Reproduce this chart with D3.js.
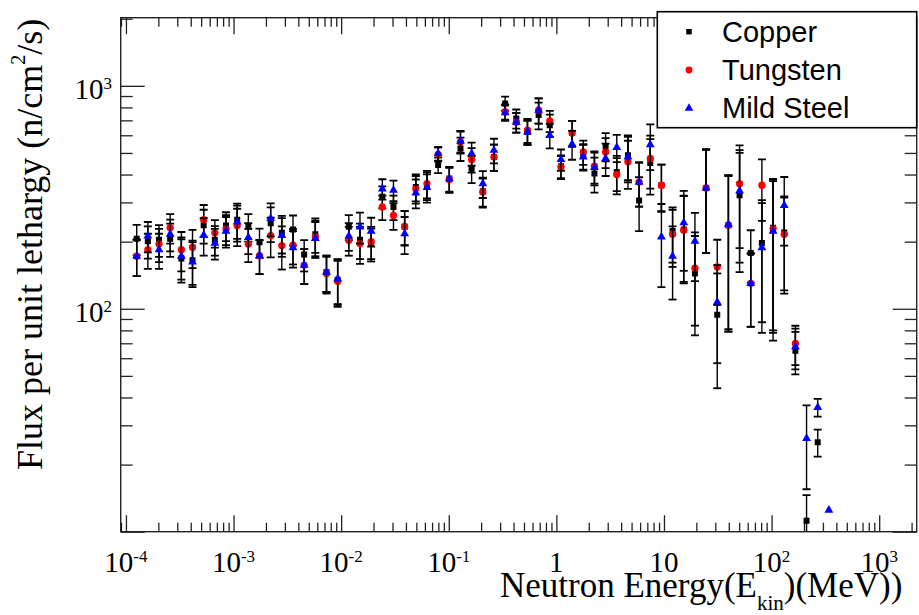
<!DOCTYPE html>
<html>
<head>
<meta charset="utf-8">
<script src="https://cdn.jsdelivr.net/npm/d3@7"></script>
<style>
  body { margin: 0; background: #fff; }
  text { font-family: "Liberation Serif", "Times New Roman", serif; fill: #000; }
  .legend text { font-family: "Liberation Sans", Arial, sans-serif; }
</style>
</head>
<body>
<svg id="chart" width="919" height="615"></svg>
<script>
// neutron energy bin centres (MeV)
const energy = [1.259e-4, 1.598e-4, 2.030e-4, 2.577e-4, 3.273e-4, 4.156e-4, 5.278e-4, 6.702e-4, 8.511e-4,
  1.081e-3, 1.372e-3, 1.743e-3, 2.213e-3, 2.810e-3, 3.569e-3, 4.532e-3, 5.754e-3, 7.307e-3, 9.279e-3,
  1.178e-2, 1.496e-2, 1.900e-2, 2.413e-2, 3.063e-2, 3.890e-2, 4.940e-2, 6.273e-2, 7.966e-2,
  0.1012, 0.1285, 0.1631, 0.2072, 0.2630, 0.3340, 0.4242, 0.5387, 0.6839, 0.8685,
  1.103, 1.400, 1.778, 2.258, 2.868, 3.641, 4.624, 5.872, 7.457, 9.467,
  12.02, 15.27, 19.39, 24.61, 31.26, 39.69, 50.41, 64.01, 81.28,
  103.2, 131.1, 166.4, 211.3, 268.4, 340.8];

const copper = [206, 201, 204, 206, 168, 165, 237, 204, 236, 251,
  233, 199, 242, 219, 227, 175, 216, 146, 135, 233,
  204, 196, 318, 286, 233, 352, 358, 441, 384, 523,
  425, 337, 480, 834, 713, 621, 739, 666, 436, 615,
  484, 404, 536, 411, 488, 306, 451, 358, 223, 227,
  144, 348, 94, 237, 323, 178, 197, 231, 220, 64.8,
  11.2, 25.2, null];

const tungsten = [172, 184, 195, 231, 184, 189, 251, 219, 228, 236,
  195, 173, 213, 192, 193, 157, 210, 144, 133, 203,
  196, 200, 286, 262, 234, 345, 364, 493, 380, 560,
  467, 334, 480, 765, 687, 632, 778, 696, 433, 615,
  505, 436, 505, 400, 456, 370, 472, 358, 216, 225,
  152, 348, 154, 237, 364, 130, 358, 229, 216, 69.9,
  null, null, null];

const mildSteel = [172, 212, 184, 216, 172, 162, 214, 197, 223, 245,
  209, 173, 254, 213, 188, 157, 207, 146, 136, 212,
  233, 223, 345, 340, 217, 331, 350, 497, 382, 564,
  497, 364, 514, 757, 687, 621, 778, 600, 467, 547,
  480, 430, 472, 529, 480, 370, 545, 210, 172, 243,
  201, 348, 107, 239, 338, 130, 188, 223, 291, 67.5,
  26.2, 36.1, 12.5];

// error bars (same size for the three targets up to 150 MeV)
const errCommon = [32, 33, 33, 35, 37, 37, 41, 31, 35, 45,
  33, 30, 43, 42, 35, 28, 38, 27, 31, 30,
  37, 33, 36, 36, 41, 49, 51, 35, 49, 63,
  59, 50, 65, 60, 70, 78, 101, 76, 51, 81,
  63, 72, 78, 74, 111, 83, 126, 85, 62, 95,
  68, 170, 50, 158, 177, 47, 110, 151, 99, 14];
const errCopper = errCommon.concat([3.4, 3.5, 0]);
const errTungsten = errCommon.concat([0, 0, 0]);
const errSteel = errCommon.concat([10.7, 3.3, 0]);

const seriesNames = ['Copper', 'Tungsten', 'Mild Steel'];
const seriesColors = ['#000000', '#ff0000', '#0000ff'];

const xLabelTicks = [1e-4, 1e-3, 1e-2, 1e-1, 1, 10, 100, 1000];
const xLabelText = [['10', '-4'], ['10', '-3'], ['10', '-2'], ['10', '-1'], ['1', ''], ['10', ''], ['10', '2'], ['10', '3']];
const yLabelTicks = [100, 1000];
const yLabelText = [['10', '2'], ['10', '3']];

const W = 919, H = 615;
const pL = 120.7, pR = 916.7, pT = 17.7, pB = 531.7;

const svg = d3.select('#chart');
svg.append('rect').attr('width', W).attr('height', H).attr('fill', '#fff');

const x = d3.scaleLog().domain([8.94e-5, 2231]).range([pL, pR]);
const y = d3.scaleLog().domain([10, 2021]).range([pB, pT]);

const isMajor = v => Math.abs(Math.log10(v) - Math.round(Math.log10(v))) < 1e-6;
const xt = x.ticks().filter(v => v >= x.domain()[0] && v <= x.domain()[1]);
const yt = y.ticks().filter(v => v >= y.domain()[0] && v <= y.domain()[1]);

// ticks on all four sides, pointing inwards
function ticks(axisFn, scale, vals, len, tx, ty) {
  const g = svg.append('g').attr('transform', `translate(${tx},${ty})`)
    .call(axisFn(scale).tickValues(vals).tickSize(-len).tickSizeOuter(0).tickFormat(''));
  g.select('.domain').remove();
  g.selectAll('line').attr('stroke', '#222').attr('stroke-width', 1.3);
}
ticks(d3.axisBottom, x, xt.filter(v => !isMajor(v)), 9, 0, pB);
ticks(d3.axisBottom, x, xt.filter(isMajor), 16.5, 0, pB);
ticks(d3.axisTop, x, xt.filter(v => !isMajor(v)), 9, 0, pT);
ticks(d3.axisTop, x, xt.filter(isMajor), 16.5, 0, pT);
ticks(d3.axisLeft, y, yt.filter(v => !isMajor(v)), 12, pL, 0);
ticks(d3.axisLeft, y, yt.filter(isMajor), 24, pL, 0);
ticks(d3.axisRight, y, yt.filter(v => !isMajor(v)), 12, pR, 0);
ticks(d3.axisRight, y, yt.filter(isMajor), 24, pR, 0);

svg.append('rect')
  .attr('x', pL).attr('y', pT)
  .attr('width', pR - pL).attr('height', pB - pT)
  .attr('fill', 'none').attr('stroke', '#222').attr('stroke-width', 1.4);

// tick labels: "10" with an optional superscript exponent
function powerLabel(sel, lbl) {
  sel.append('tspan').text(lbl[0]);
  if (lbl[1]) sel.append('tspan').attr('dy', -10).attr('font-size', 17).text(lbl[1]);
}
svg.append('g').selectAll('text').data(xLabelTicks).enter().append('text')
  .attr('x', d => x(d)).attr('y', 571.7)
  .attr('text-anchor', 'middle').attr('font-size', 29)
  .each(function(d, i) { powerLabel(d3.select(this), xLabelText[i]); });

svg.append('g').selectAll('text').data(yLabelTicks).enter().append('text')
  .attr('x', 112).attr('y', d => y(d) + 13.5)
  .attr('text-anchor', 'end').attr('font-size', 29)
  .each(function(d, i) { powerLabel(d3.select(this), yLabelText[i]); });

// axis titles
const xTitle = svg.append('text').attr('x', 500).attr('y', 596.7).attr('font-size', 35);
xTitle.append('tspan').text('Neutron Energy(E');
xTitle.append('tspan').attr('dy', 13).attr('font-size', 21).text('kin');
xTitle.append('tspan').attr('dy', -13).text(')(MeV))');

const yTitle = svg.append('text').attr('transform', 'translate(42,470) rotate(-90)').attr('font-size', 36);
yTitle.append('tspan').text('Flux per unit lethargy (n/cm');
yTitle.append('tspan').attr('dy', -17).attr('font-size', 20).text('2');
yTitle.append('tspan').attr('dy', 17).text('/s)');

// data
svg.append('clipPath').attr('id', 'plotClip').append('rect')
  .attr('x', pL).attr('y', pT).attr('width', pR - pL).attr('height', pB - pT);
const plot = svg.append('g').attr('clip-path', 'url(#plotClip)');

const symbols = [
  d3.symbol().type(d3.symbolSquare).size(36),
  d3.symbol().type(d3.symbolCircle).size(42),
  d3.symbol().type(d3.symbolTriangle).size(34)
];
const legendSymbols = [
  d3.symbol().type(d3.symbolSquare).size(30),
  d3.symbol().type(d3.symbolCircle).size(38),
  d3.symbol().type(d3.symbolTriangle).size(32)
];

const allSeries = [copper, tungsten, mildSteel];
const allErr = [errCopper, errTungsten, errSteel];

allSeries.forEach((vals, s) => {
  const pts = energy.map((e, i) => ({ e: e, v: vals[i], err: allErr[s][i] }))
    .filter(d => d.v !== null);
  const g = plot.append('g');
  const bars = pts.filter(d => d.err > 0);
  const lowY = d => d.v - d.err > 0 ? y(d.v - d.err) : pB + 10;
  g.selectAll('line.bar').data(bars).enter().append('line')
    .attr('x1', d => x(d.e)).attr('x2', d => x(d.e))
    .attr('y1', d => y(d.v + d.err)).attr('y2', lowY)
    .attr('stroke', '#000').attr('stroke-width', 1.4);
  g.selectAll('line.capTop').data(bars).enter().append('line')
    .attr('x1', d => x(d.e) - 4).attr('x2', d => x(d.e) + 4)
    .attr('y1', d => y(d.v + d.err)).attr('y2', d => y(d.v + d.err))
    .attr('stroke', '#000').attr('stroke-width', 1.8);
  g.selectAll('line.capBot').data(bars).enter().append('line')
    .attr('x1', d => x(d.e) - 4).attr('x2', d => x(d.e) + 4)
    .attr('y1', lowY).attr('y2', lowY)
    .attr('stroke', '#000').attr('stroke-width', 1.8);
  g.selectAll('path').data(pts).enter().append('path')
    .attr('d', symbols[s])
    .attr('transform', d => `translate(${x(d.e)},${y(d.v)})`)
    .attr('fill', seriesColors[s]);
});

// legend
const legend = svg.append('g').attr('class', 'legend');
legend.append('rect')
  .attr('x', 657.3).attr('y', 11.7).attr('width', 259.4).attr('height', 116)
  .attr('fill', '#fff').attr('stroke', '#000').attr('stroke-width', 1.6);
seriesNames.forEach((name, i) => {
  const cy = 31.7 + i * 38.3;
  legend.append('path').attr('d', legendSymbols[i])
    .attr('transform', `translate(689,${cy})`).attr('fill', seriesColors[i]);
  legend.append('text').attr('x', 722).attr('y', cy + 9.8)
    .attr('font-size', 29).text(name);
});
</script>
</body>
</html>
